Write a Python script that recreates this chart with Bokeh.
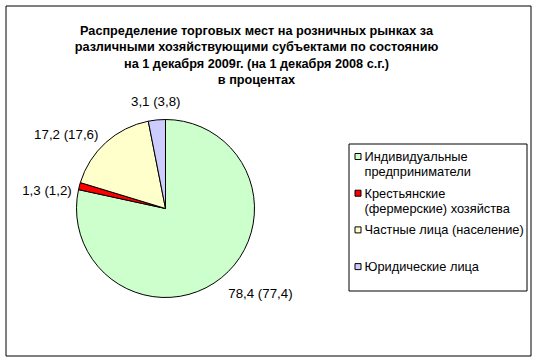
import math
from bokeh.plotting import figure
from bokeh.models import Range1d, ColumnDataSource
from bokeh.core.properties import value
from bokeh.embed import file_html
from bokeh.resources import INLINE

# ---- data ----
title_lines = [
    "Распределение торговых мест на розничных рынках за",
    "различными хозяйствующими субъектами по состоянию",
    "на 1 декабря 2009г. (на 1 декабря 2008 с.г.)",
    "в процентах",
]
categories = [
    "Индивидуальные\nпредприниматели",
    "Крестьянские\n(фермерские) хозяйства",
    "Частные лица (население)",
    "Юридические лица",
]
values_2009 = [78.4, 1.3, 17.2, 3.1]
values_2008 = [77.4, 1.2, 17.6, 3.8]
colors = ["#CCFFCC", "#FF0000", "#FFFFCC", "#CCCCFF"]

# ---- layout (data units == screen pixels, y measured upward) ----
W, H = 537, 362
FONT = value("Arial")


def Y(ys):
    return H - ys


cx, cy, R = 165, Y(208), 89

p = figure(width=W, height=H, x_range=Range1d(0, W), y_range=Range1d(0, H),
           output_backend="svg", toolbar_location=None, min_border=0,
           x_axis_type=None, y_axis_type=None)
p.grid.visible = False
p.outline_line_color = None
p.background_fill_color = "white"
p.border_fill_color = "white"

# chart area border
p.quad(left=5.5, right=530.5, top=Y(5.5), bottom=Y(355.5),
       fill_color=None, line_color="black", line_width=1)

# ---- pie ----
total = sum(values_2009)
starts, ends, mids = [], [], []
cum = 0.0
for v in values_2009:
    a0 = math.pi / 2 - 2 * math.pi * cum / total
    cum += v
    a1 = math.pi / 2 - 2 * math.pi * cum / total
    starts.append(a0)
    ends.append(a1)
    mids.append((a0 + a1) / 2)

src = ColumnDataSource(dict(start=starts, end=ends, color=colors))
p.wedge(x=cx, y=cy, radius=R, start_angle="start", end_angle="end",
        direction="clock", fill_color="color", line_color="black",
        line_width=1, source=src)

# ---- data labels ----
def fmt(v):
    return f"{v:.1f}".replace(".", ",")

lx, ly, la, lb, lt = [], [], [], [], []
LR = R + 11
for v, v0, m in zip(values_2009, values_2008, mids):
    c, s = math.cos(m), math.sin(m)
    lx.append(cx + LR * c + (3 if c < -0.9 else 0))
    ly.append(cy + LR * s)
    la.append("left" if c > 0.3 else ("right" if c < -0.3 else "center"))
    lb.append("bottom" if s > 0.9 else ("middle" if s > 0.3 else "top"))
    lt.append(f"{fmt(v)} ({fmt(v0)})")
p.text(x=lx, y=ly, text=lt, text_align=la, text_baseline=lb,
       text_font=FONT, text_font_size="13.3px", text_color="black")

# ---- title ----
tx = 256
ty = [Y(30.5 + 16.3 * i) for i in range(len(title_lines))]
p.text(x=[tx] * len(title_lines), y=ty, text=title_lines, text_align="center",
       text_baseline="alphabetic", text_font=FONT, text_font_size="12.7px",
       text_font_style="bold", text_color="black")

# ---- legend ----
p.quad(left=348.5, right=526.5, top=Y(143.5), bottom=Y(290.5),
       fill_color="white", line_color="black", line_width=1)
item_y0 = 156
item_step = 36.7
line_step = 15
sq = 6
for i, (cat, col) in enumerate(zip(categories, colors)):
    yc = item_y0 + i * item_step
    p.quad(left=354.5, right=354.5 + sq, top=Y(yc - sq / 2), bottom=Y(yc + sq / 2),
           fill_color=col, line_color="black", line_width=1)
    lines = cat.split("\n")
    p.text(x=[364] * len(lines), y=[Y(yc + j * line_step) for j in range(len(lines))],
           text=lines, text_align="left", text_baseline="middle",
           text_font=FONT, text_font_size="12.8px", text_color="black")

open("out.html", "w").write(file_html(p, INLINE))
